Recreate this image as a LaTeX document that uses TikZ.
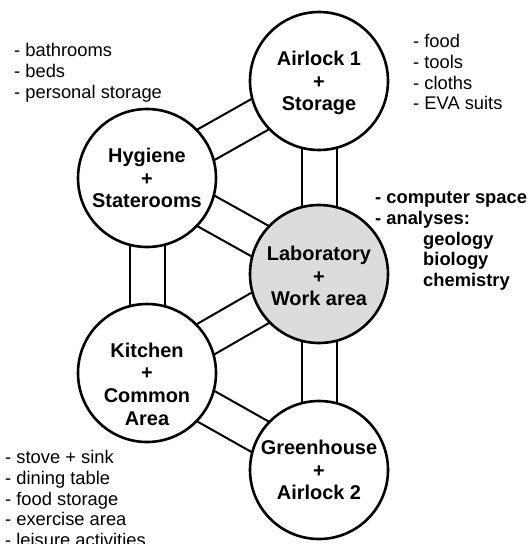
\documentclass[tikz,border=0pt]{standalone}
\usepackage{fontspec}
\setmainfont{Liberation Sans}
\usetikzlibrary{calc,backgrounds}
\begin{document}
\begin{tikzpicture}[x=1bp,y=-1bp,
  room/.style={circle, draw=black, line width=2.6bp, fill=white, minimum size=138bp, inner sep=0pt},
  roomtext/.style={align=center, font=\bfseries\fontsize{20}{22.8}\selectfont, inner sep=0pt},
  tube/.style={line width=2bp, draw=black},
  note/.style={align=left, anchor=north west, inner sep=0pt, font=\fontsize{18.4}{21}\selectfont},
  boldnote/.style={note, font=\bfseries\fontsize{18.4}{21}\selectfont}]
\useasboundingbox (0,0) rectangle (530,544);

\node[room] (air) at (319,81) {};
\node[room] (hyg) at (147,178) {};
\node[room, fill={rgb,255:red,220;green,220;blue,220}] (lab) at (319,274) {};
\node[room] (kit) at (147,373) {};
\node[room] (gre) at (319,470) {};

\node[roomtext] (airt) at (319,83) {Airlock 1\\+\\Storage};
\node[roomtext] (hygt) at (147,178) {Hygiene\\+\\Staterooms};
\node[roomtext] (labt) at (319,276) {Laboratory\\+\\Work area};
\node[roomtext] (kitt) at (147,384) {Kitchen\\+\\Common\\Area};
\node[roomtext] (gret) at (319,470) {Greenhouse\\+\\Airlock 2};

\begin{scope}[on background layer]
\foreach \a/\b in {hyg/air, air/lab, hyg/lab, hyg/kit, kit/lab, kit/gre, lab/gre} {
  \draw[tube] ($(\a)!17.5bp!90:(\b)$) -- ($(\b)!17.5bp!-90:(\a)$);
  \draw[tube] ($(\a)!17.5bp!-90:(\b)$) -- ($(\b)!17.5bp!90:(\a)$);
}
\end{scope}

\node[note] (hygn) at (14,41) {\rule{0pt}{15bp}- bathrooms\\- beds\\- personal storage};
\node[note] (airn) at (413,32) {\rule{0pt}{15bp}- food\\- tools\\- cloths\\- EVA suits};
\node[boldnote] (labn) at (375,188) {\rule{0pt}{15bp}- computer space\\- analyses:\\\hspace*{48bp}geology\\\hspace*{48bp}biology\\\hspace*{48bp}chemistry};
\node[note] (kitn) at (5,448) {\rule{0pt}{15bp}- stove + sink\\- dining table\\- food storage\\- exercise area\\- leisure activities};
\end{tikzpicture}
\end{document}
